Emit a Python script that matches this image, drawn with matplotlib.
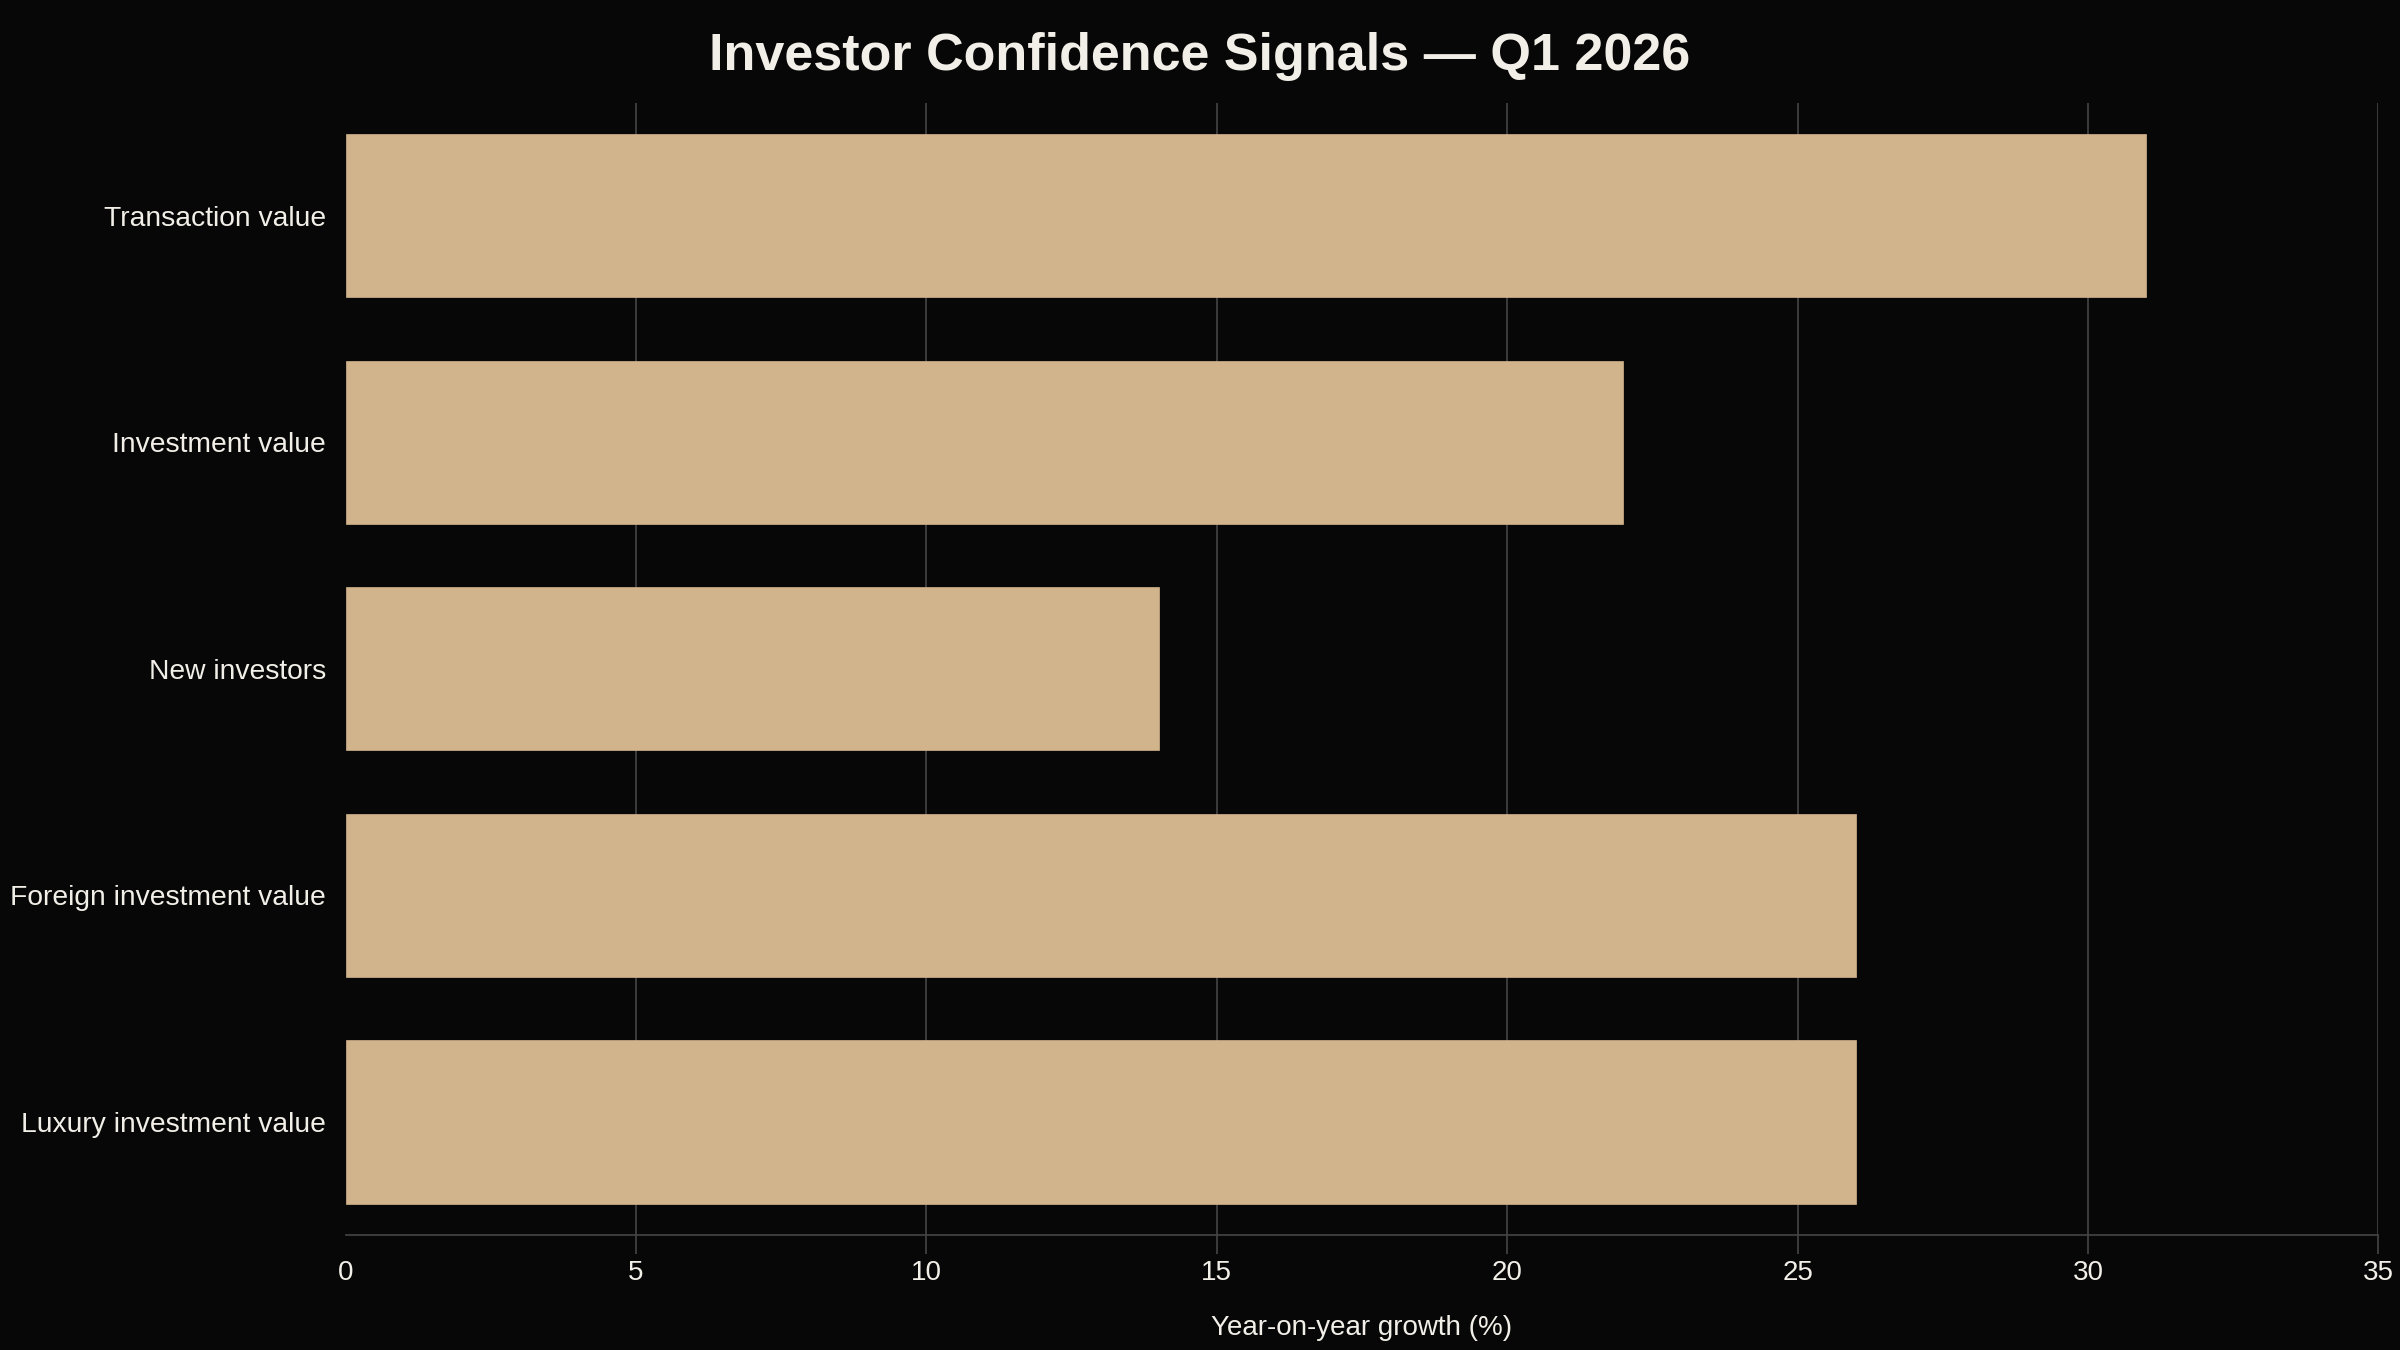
import matplotlib
matplotlib.use("Agg")
import matplotlib.pyplot as plt

categories = ["Transaction value", "Investment value", "New investors",
              "Foreign investment value", "Luxury investment value"]
growth = [31, 22, 14, 26, 26]
xticks = [0, 5, 10, 15, 20, 25, 30, 35]

BG = "#070707"
BAR = "#D2B48C"
TXT = "#F2EFE8"
GRID = "#454545"

plt.rcParams['font.family'] = ['Liberation Sans', 'DejaVu Sans']

fig = plt.figure(figsize=(24, 13.5), dpi=100, facecolor=BG)
ax = fig.add_axes([0.144, 0.085, 0.847, 0.839])
ax.set_facecolor(BG)

ypos = list(range(len(categories)))
ax.barh(ypos, growth, height=0.72, color=BAR, edgecolor=BAR, linewidth=0.5, zorder=3)

ax.set_xlim(0, 35)
ax.set_ylim(len(categories) - 0.5, -0.5)
ax.set_yticks(ypos)
ax.set_yticklabels(categories, fontsize=20.3, color=TXT)
ax.set_xticks(xticks)
ax.set_xticklabels([str(t) for t in xticks], fontsize=20, color=TXT)
ax.tick_params(axis='y', length=0, pad=14)
ax.tick_params(axis='x', length=14, color=GRID, width=1.2, pad=4)

ax.grid(axis='x', color=GRID, linewidth=1.2, zorder=0)
ax.grid(axis='y', visible=False)
for s in ['top', 'right', 'left']:
    ax.spines[s].set_visible(False)
ax.spines['bottom'].set_color(GRID)
ax.spines['bottom'].set_linewidth(1.2)

# no gridline / tick mark at zero
ax.get_xgridlines()[0].set_visible(False)
ax.xaxis.get_major_ticks()[0].tick1line.set_visible(False)

ax.set_xlabel("Year-on-year growth (%)", fontsize=20, color=TXT, labelpad=21)
fig.suptitle("Investor Confidence Signals \u2014 Q1 2026", fontsize=37.5,
             fontweight='bold', color=TXT, y=0.958, va='center')

fig.savefig("out.png", dpi=100, facecolor=BG)
